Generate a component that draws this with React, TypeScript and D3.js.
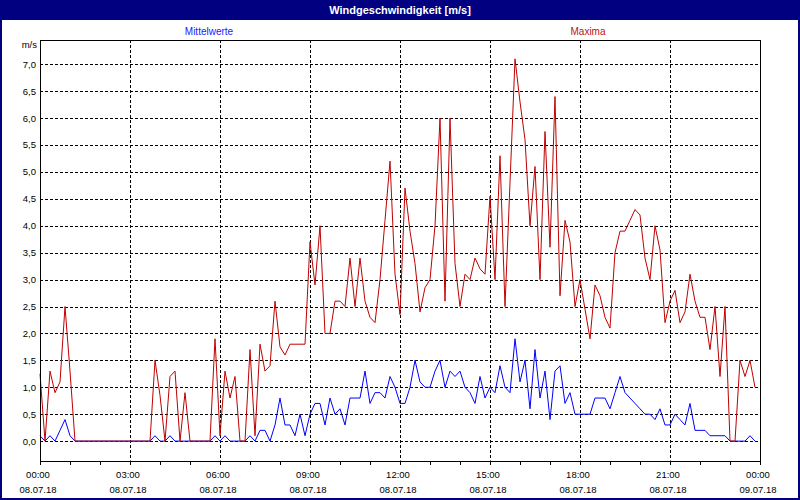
import React, { useRef, useEffect } from 'react';
import { select, scaleLinear, line, range, format } from 'd3';

// 10-minute readings, 08.07.18 00:00 .. 23:50
const stepMinutes = 10;

const mittelwerte = [
  0.1, 0, 0.1, 0, 0.2, 0.4, 0.1, 0, 0, 0, 0, 0, 0, 0, 0, 0, 0, 0, 0, 0, 0, 0, 0, 0.1,
  0, 0, 0.1, 0, 0, 0, 0, 0, 0, 0, 0, 0.1, 0, 0.1, 0, 0, 0, 0, 0.1, 0, 0.2, 0.2, 0, 0.3,
  0.8, 0.3, 0.3, 0.1, 0.5, 0.1, 0.5, 0.7, 0.7, 0.3, 0.8, 0.5, 0.6, 0.3, 0.8, 0.8, 0.8, 1.3, 0.7, 0.9,
  0.9, 0.8, 1.2, 1.0, 0.7, 0.7, 1.0, 1.5, 1.1, 1.0, 1.0, 1.3, 1.5, 1.0, 1.3, 1.2, 1.3, 1.0, 0.9, 0.7,
  1.2, 0.8, 1.0, 0.9, 1.4, 1.0, 0.9, 1.9, 1.1, 1.5, 0.6, 1.7, 0.8, 1.3, 0.4, 1.3, 1.4, 0.7, 0.9, 0.5,
  0.5, 0.5, 0.5, 0.8, 0.8, 0.8, 0.6, 0.9, 1.2, 0.9, 0.8, 0.7, 0.6, 0.5, 0.5, 0.4, 0.6, 0.3, 0.3, 0.5,
  0.4, 0.3, 0.7, 0.2, 0.2, 0.2, 0.1, 0.1, 0.1, 0.1, 0, 0, 0, 0, 0.1, 0
];

const maxima = [
  1.25, 0, 1.3, 0.9, 1.1, 2.5, 1.3, 0, 0, 0, 0, 0, 0, 0, 0, 0, 0, 0, 0, 0, 0, 0, 0, 1.5,
  0.85, 0, 1.2, 1.3, 0, 0.9, 0, 0, 0, 0, 0, 1.9, 0.1, 1.3, 0.8, 1.2, 0, 0, 1.7, 0.1, 1.8, 1.3, 1.4, 2.6,
  1.75, 1.6, 1.8, 1.8, 1.8, 1.8, 3.7, 2.9, 4.0, 2.0, 2.0, 2.6, 2.6, 2.5, 3.4, 2.5, 3.4, 2.6, 2.3, 2.2,
  3.0, 4.1, 5.2, 3.1, 2.35, 4.7, 3.9, 3.3, 2.4, 2.85, 3.0, 4.0, 6.0, 2.6, 6.0, 3.3, 2.5, 3.1, 3.0, 3.4,
  3.2, 3.1, 4.55, 3.0, 5.3, 2.5, 4.8, 7.1, 6.3, 5.6, 4.0, 5.1, 3.0, 5.75, 3.6, 6.4, 2.7, 4.1, 3.7, 2.5,
  3.0, 2.45, 1.9, 2.9, 2.7, 2.3, 2.1, 3.5, 3.9, 3.9, 4.1, 4.3, 4.2, 3.4, 3.0, 4.0, 3.55, 2.2, 2.6, 2.8,
  2.2, 2.4, 3.1, 2.6, 2.3, 2.3, 1.7, 2.5, 1.2, 2.5, 0, 0, 1.5, 1.2, 1.5, 1.0
];

const timeLabels = ['00:00', '03:00', '06:00', '09:00', '12:00', '15:00', '18:00', '21:00', '00:00'];
const dateLabels = ['08.07.18', '08.07.18', '08.07.18', '08.07.18', '08.07.18', '08.07.18', '08.07.18', '08.07.18', '09.07.18'];
const yTicks = range(0, 7.01, 0.5);

const width = 800;
const height = 500;
const margin = { top: 40, right: 40, bottom: 39.5, left: 40 };
const font = '"Liberation Sans", Arial, sans-serif';

const App = () => {
  const svgRef = useRef(null);

  useEffect(() => {
    const svgEl = select(svgRef.current);
    svgEl.selectAll('*').remove();

    const x0 = margin.left;
    const x1 = width - margin.right;
    const y0 = margin.top;
    const y1 = height - margin.bottom;

    const xScale = scaleLinear().domain([0, 24 * 60]).range([x0, x1]);
    const yScale = scaleLinear().domain([-0.36, 7.45]).range([y1, y0]);
    const crisp = (v: number) => Math.round(v) + 0.5;

    // window frame + title bar
    svgEl.append('rect')
      .attr('x', 0).attr('y', 0).attr('width', width).attr('height', height)
      .attr('fill', '#ffffff');
    svgEl.append('rect')
      .attr('x', 0).attr('y', 0).attr('width', width).attr('height', 20)
      .attr('fill', '#000080');
    svgEl.append('rect')
      .attr('x', 1).attr('y', 1).attr('width', width - 2).attr('height', height - 2)
      .attr('fill', 'none').attr('stroke', '#000080').attr('stroke-width', 2);
    svgEl.append('text')
      .attr('x', width / 2).attr('y', 14)
      .attr('text-anchor', 'middle')
      .attr('fill', '#ffffff')
      .style('font-family', font)
      .style('font-size', '11px')
      .style('font-weight', 'bold')
      .text('Windgeschwindigkeit [m/s]');

    // legend labels
    svgEl.append('text')
      .attr('x', 209).attr('y', 35)
      .attr('text-anchor', 'middle')
      .attr('fill', '#2020ff')
      .style('font-family', font).style('font-size', '10px')
      .text('Mittelwerte');
    svgEl.append('text')
      .attr('x', 588).attr('y', 35)
      .attr('text-anchor', 'middle')
      .attr('fill', '#c01010')
      .style('font-family', font).style('font-size', '10px')
      .text('Maxima');

    const grid = svgEl.append('g')
      .attr('stroke', '#000000')
      .attr('stroke-width', 1)
      .attr('stroke-dasharray', '3,2');

    // horizontal grid lines
    grid.selectAll('.hgrid')
      .data(yTicks)
      .enter()
      .append('line')
      .attr('x1', x0).attr('x2', x1)
      .attr('y1', d => crisp(yScale(d)))
      .attr('y2', d => crisp(yScale(d)));

    // vertical grid lines every 3 hours
    grid.selectAll('.vgrid')
      .data(range(1, timeLabels.length - 1))
      .enter()
      .append('line')
      .attr('x1', d => crisp(xScale(d * 180)))
      .attr('x2', d => crisp(xScale(d * 180)))
      .attr('y1', y0).attr('y2', y1);

    // y labels
    const fmt = format('.1f');
    svgEl.append('g')
      .selectAll('text')
      .data(yTicks)
      .enter()
      .append('text')
      .attr('x', x0 - 4)
      .attr('y', d => yScale(d) + 3.5)
      .attr('text-anchor', 'end')
      .style('font-family', font).style('font-size', '9.5px')
      .text(d => fmt(d).replace('.', ','));

    svgEl.append('text')
      .attr('x', x0 - 3).attr('y', 48)
      .attr('text-anchor', 'end')
      .style('font-family', font).style('font-size', '9.5px')
      .text('m/s');

    // hour ticks on x axis
    svgEl.append('g')
      .attr('stroke', '#000000')
      .selectAll('line')
      .data(range(0, 25))
      .enter()
      .append('line')
      .attr('x1', d => crisp(xScale(d * 60)))
      .attr('x2', d => crisp(xScale(d * 60)))
      .attr('y1', crisp(y1)).attr('y2', crisp(y1) + 3.5);

    const xLabels = svgEl.append('g')
      .style('font-family', font).style('font-size', '9.5px')
      .attr('text-anchor', 'middle');
    xLabels.selectAll('.time')
      .data(timeLabels)
      .enter()
      .append('text')
      .attr('x', (d, i) => xScale(i * 180) - 2)
      .attr('y', 478)
      .text(d => d);
    xLabels.selectAll('.date')
      .data(dateLabels)
      .enter()
      .append('text')
      .attr('x', (d, i) => xScale(i * 180) - 2)
      .attr('y', 493)
      .text(d => d);

    // data lines
    const chartLine = line<number>()
      .x((d, i) => xScale(i * stepMinutes))
      .y(d => yScale(d));

    svgEl.append('path')
      .attr('fill', 'none')
      .attr('stroke', '#0000ff')
      .attr('stroke-width', 1)
      .attr('d', chartLine(mittelwerte));

    svgEl.append('path')
      .attr('fill', 'none')
      .attr('stroke', '#c00000')
      .attr('stroke-width', 1)
      .attr('d', chartLine(maxima));

    // plot frame
    svgEl.append('rect')
      .attr('x', crisp(x0)).attr('y', crisp(y0))
      .attr('width', Math.round(x1) - Math.round(x0))
      .attr('height', Math.round(y1) - Math.round(y0))
      .attr('fill', 'none')
      .attr('stroke', '#000000')
      .attr('stroke-width', 1);
  }, []);

  return (
    <svg
      ref={svgRef}
      width={width}
      height={height}
      style={{ position: 'absolute', left: 0, top: 0, display: 'block' }}
    />
  );
};

export default App;
